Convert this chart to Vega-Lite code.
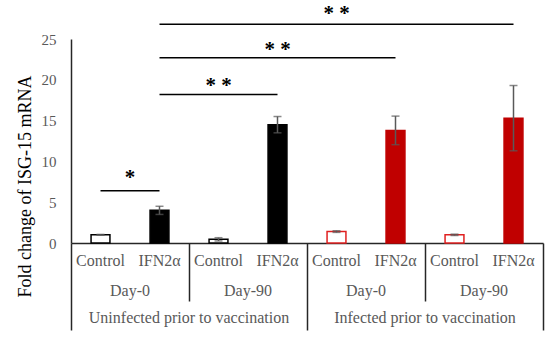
{
  "$schema": "https://vega.github.io/schema/vega-lite/v6.json",
  "width": 472,
  "height": 204,
  "autosize": {"type": "none"},
  "padding": {"left": 71, "top": 39, "right": 7, "bottom": 94},
  "background": "white",
  "config": {
    "view": {"stroke": null},
    "font": "Liberation Serif, Times New Roman, DejaVu Serif, serif",
    "text": {"font": "Liberation Serif, Times New Roman, DejaVu Serif, serif"},
    "axis": {"labelFont": "Liberation Serif, Times New Roman, DejaVu Serif, serif", "titleFont": "Liberation Serif, Times New Roman, DejaVu Serif, serif", "grid": false, "labelOverlap": false, "labelBound": false, "labelLimit": 0}
  },
  "datasets": {
    "bars": [
      {"id": "Uninfected prior to vaccination|Day-0|Control", "cell": "Uninfected Control", "value": 1.0, "lo": 0.95, "hi": 1.05},
      {"id": "Uninfected prior to vaccination|Day-0|IFN2α", "cell": "Uninfected IFN2α", "value": 4.0, "lo": 3.5, "hi": 4.5},
      {"id": "Uninfected prior to vaccination|Day-90|Control", "cell": "Uninfected Control", "value": 0.45, "lo": 0.25, "hi": 0.65},
      {"id": "Uninfected prior to vaccination|Day-90|IFN2α", "cell": "Uninfected IFN2α", "value": 14.5, "lo": 13.5, "hi": 15.5},
      {"id": "Infected prior to vaccination|Day-0|Control", "cell": "Infected Control", "value": 1.4, "lo": 1.3, "hi": 1.5},
      {"id": "Infected prior to vaccination|Day-0|IFN2α", "cell": "Infected IFN2α", "value": 13.8, "lo": 12.05, "hi": 15.55},
      {"id": "Infected prior to vaccination|Day-90|Control", "cell": "Infected Control", "value": 1.0, "lo": 0.92, "hi": 1.08},
      {"id": "Infected prior to vaccination|Day-90|IFN2α", "cell": "Infected IFN2α", "value": 15.3, "lo": 11.3, "hi": 19.3}
    ],
    "sig": [
      {"from": "Uninfected prior to vaccination|Day-0|Control", "to": "Uninfected prior to vaccination|Day-0|IFN2α", "yv": 6.4},
      {"from": "Uninfected prior to vaccination|Day-0|IFN2α", "to": "Uninfected prior to vaccination|Day-90|IFN2α", "yv": 18.2},
      {"from": "Uninfected prior to vaccination|Day-0|IFN2α", "to": "Infected prior to vaccination|Day-0|IFN2α", "yv": 22.7},
      {"from": "Uninfected prior to vaccination|Day-0|IFN2α", "to": "Infected prior to vaccination|Day-90|IFN2α", "yv": 26.8}
    ],
    "stars2": [
      {"pos": "Uninfected prior to vaccination|Day-90|Control", "yv": 18.5, "label": "* *"},
      {"pos": "Uninfected prior to vaccination|Day-90|IFN2α", "yv": 22.9, "label": "* *"},
      {"pos": "Infected prior to vaccination|Day-0|Control", "yv": 27.3, "label": "* *"}
    ],
    "stars1": [
      {"pos": "Uninfected prior to vaccination|Day-0|Control", "yv": 7.2, "label": "*"}
    ]
  },
  "resolve": {"scale": {"x": "shared", "y": "shared"}, "axis": {"x": "independent"}},
  "layer": [
    {
      "data": {"name": "bars"},
      "mark": {"type": "bar", "width": {"band": 0.32}, "strokeWidth": 1.5},
      "encoding": {
        "x": {
          "field": "id", "type": "nominal",
          "scale": {"domain": ["Uninfected prior to vaccination|Day-0|Control", "Uninfected prior to vaccination|Day-0|IFN2α", "Uninfected prior to vaccination|Day-90|Control", "Uninfected prior to vaccination|Day-90|IFN2α", "Infected prior to vaccination|Day-0|Control", "Infected prior to vaccination|Day-0|IFN2α", "Infected prior to vaccination|Day-90|Control", "Infected prior to vaccination|Day-90|IFN2α"], "paddingInner": 0, "paddingOuter": 0},
          "axis": {"orient": "bottom", "title": null, "ticks": false, "domain": true, "domainColor": "#262626", "domainWidth": 1.5, "labelAngle": 0, "labelExpr": "split(datum.value,'|')[2]", "labelColor": "#595959", "labelFontSize": 16, "labelPadding": 9}
        },
        "y": {
          "field": "value", "type": "quantitative",
          "scale": {"domain": [0, 25], "nice": false},
          "title": "Fold change of ISG-15 mRNA",
          "axis": {"values": [0, 5, 10, 15, 20, 25], "ticks": false, "domainColor": "#262626", "domainWidth": 1.5, "labelColor": "#595959", "labelFontSize": 15, "labelPadding": 15, "titleFontSize": 18, "titleFontWeight": "normal", "titleColor": "black", "titlePadding": 7, "titleY": 147}
        },
        "fill": {"field": "cell", "type": "nominal", "scale": {"domain": ["Uninfected Control", "Uninfected IFN2α", "Infected Control", "Infected IFN2α"], "range": ["white", "black", "white", "#C00000"]}, "legend": null},
        "stroke": {"field": "cell", "type": "nominal", "scale": {"domain": ["Uninfected Control", "Uninfected IFN2α", "Infected Control", "Infected IFN2α"], "range": ["black", "black", "#E02020", "#C00000"]}, "legend": null}
      }
    },
    {
      "data": {"name": "bars"},
      "mark": {"type": "rule", "color": "#595959", "strokeWidth": 1.5},
      "encoding": {
        "x": {
          "field": "id", "type": "nominal",
          "axis": {"orient": "bottom", "title": null, "domain": false, "bandPosition": 0, "ticks": true, "tickSize": 58, "tickWidth": 1.5, "tickColor": "#262626",
            "tickOpacity": {"condition": {"test": "split(datum.value,'|')[1]=='Day-90' && split(datum.value,'|')[2]=='Control'", "value": 1}, "value": 0},
            "labelExpr": "split(datum.value,'|')[2]=='IFN2α' ? split(datum.value,'|')[1] : ''", "labelOffset": -29.5, "labelAngle": 0, "labelColor": "#595959", "labelFontSize": 16, "labelPadding": -19}
        },
        "y": {"field": "lo", "type": "quantitative", "title": "Fold change of ISG-15 mRNA"},
        "y2": {"field": "hi"}
      }
    },
    {
      "data": {"name": "bars"},
      "mark": {"type": "tick", "color": "#595959", "thickness": 1.5, "size": 8},
      "encoding": {
        "x": {"field": "id", "type": "nominal", "axis": null},
        "y": {"field": "lo", "type": "quantitative", "title": "Fold change of ISG-15 mRNA"}
      }
    },
    {
      "data": {"name": "bars"},
      "mark": {"type": "tick", "color": "#595959", "thickness": 1.5, "size": 8},
      "encoding": {
        "x": {"field": "id", "type": "nominal", "axis": null},
        "y": {"field": "hi", "type": "quantitative", "title": "Fold change of ISG-15 mRNA"}
      }
    },
    {
      "data": {"name": "sig"},
      "mark": {"type": "rule", "color": "black", "strokeWidth": 1.5},
      "encoding": {
        "x": {
          "field": "from", "type": "nominal",
          "axis": {"orient": "bottom", "title": null, "domain": false, "bandPosition": 1, "ticks": true, "tickSize": 87, "tickWidth": 1.5, "tickColor": "#262626",
            "tickOpacity": {"condition": {"test": "split(datum.value,'|')[1]=='Day-90' && split(datum.value,'|')[2]=='IFN2α'", "value": 1}, "value": 0},
            "labelExpr": "split(datum.value,'|')[1]=='Day-0' && split(datum.value,'|')[2]=='IFN2α' ? split(datum.value,'|')[0] : ''", "labelOffset": 29.5, "labelAngle": 0, "labelColor": "#595959", "labelFontSize": 16, "labelPadding": -21}
        },
        "x2": {"field": "to"},
        "y": {"field": "yv", "type": "quantitative", "title": "Fold change of ISG-15 mRNA"}
      }
    },
    {
      "data": {"name": "stars2"},
      "mark": {"type": "text", "fontSize": 21, "fontWeight": "bold", "color": "black", "baseline": "alphabetic"},
      "encoding": {
        "x": {
          "field": "pos", "type": "nominal",
          "axis": {"orient": "bottom", "title": null, "domain": false, "bandPosition": 0, "ticks": true, "tickSize": 87, "tickWidth": 1.5, "tickColor": "#262626",
            "tickOpacity": {"condition": {"test": "split(datum.value,'|')[0]=='Uninfected prior to vaccination' && split(datum.value,'|')[1]=='Day-0' && split(datum.value,'|')[2]=='Control'", "value": 1}, "value": 0},
            "labels": false}
        },
        "y": {"field": "yv", "type": "quantitative", "title": "Fold change of ISG-15 mRNA"},
        "text": {"field": "label"}
      }
    },
    {
      "data": {"name": "stars1"},
      "mark": {"type": "text", "fontSize": 21, "fontWeight": "bold", "color": "black", "baseline": "alphabetic"},
      "encoding": {
        "x": {"field": "pos", "type": "nominal", "bandPosition": 1, "axis": null},
        "y": {"field": "yv", "type": "quantitative", "title": "Fold change of ISG-15 mRNA"},
        "text": {"field": "label"}
      }
    }
  ]
}
